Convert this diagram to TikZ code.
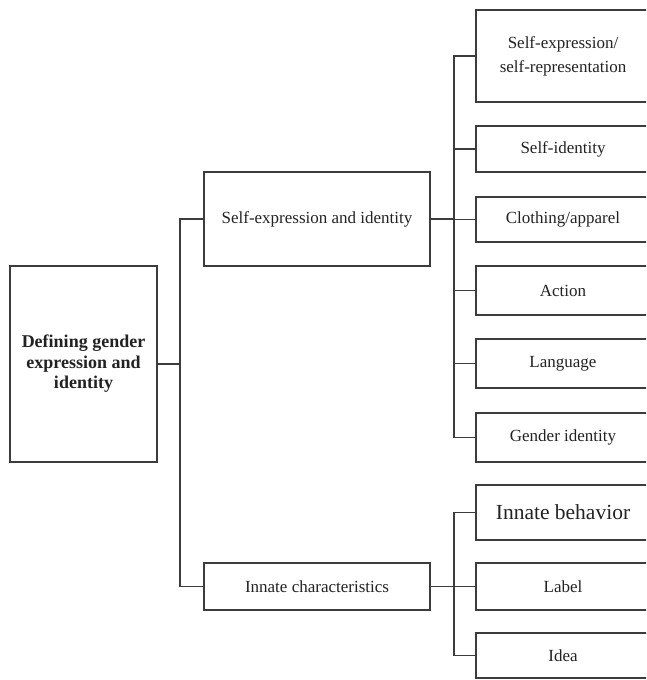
\documentclass[tikz,border=0pt]{standalone}
\usepackage{fontspec}
\setmainfont{Liberation Serif}
\definecolor{ln}{HTML}{3C3C3C}
\definecolor{tx}{HTML}{222222}
\begin{document}
\begin{tikzpicture}[x=1pt,y=-1pt,
  box/.style={draw=ln,line width=1.4pt,rectangle,inner sep=0pt,text=tx,align=center,font=\fontsize{17}{24}\selectfont},
  conn/.style={draw=ln,line width=1.4pt}]
\useasboundingbox (0,0) rectangle (646,680);
\clip (0,0) rectangle (646,680);
% root
\node[box,minimum width=147pt,minimum height=196pt,font=\fontsize{18}{20.5}\selectfont\bfseries] (root) at (83.5,364) {Defining gender\\expression and\\identity};
% middle
\node[box,minimum width=226pt,minimum height=94pt] (sei) at (317,219) {Self-expression and identity};
\node[box,minimum width=226pt,minimum height=47pt] (ic) at (317,586.5) {Innate characteristics};
% right column
\node[box,minimum width=174pt,minimum height=92pt] (r1) at (563,56) {Self-expression/\\self-representation};
\node[box,minimum width=174pt,minimum height=46pt] (r2) at (563,149) {Self-identity};
\node[box,minimum width=174pt,minimum height=45pt] (r3) at (563,219.5) {Clothing/apparel};
\node[box,minimum width=174pt,minimum height=49pt] (r4) at (563,290.5) {Action};
\node[box,minimum width=174pt,minimum height=49pt] (r5) at (563,363.5) {Language};
\node[box,minimum width=174pt,minimum height=49pt] (r6) at (563,437.5) {Gender identity};
\node[box,minimum width=174pt,minimum height=55pt,font=\fontsize{21.5}{24}\selectfont] (b1) at (563,512.5) {Innate behavior};
\node[box,minimum width=174pt,minimum height=47pt] (b2) at (563,586.5) {Label};
\node[box,minimum width=174pt,minimum height=45pt] (b3) at (563,655.5) {Idea};
% trunks
\coordinate (t1) at (180,0);
\coordinate (t2) at (454,0);
\draw[conn] (root.east) -- (root.east -| t1);
\draw[conn] (sei.west) -- (sei.west -| t1) -- (ic.west -| t1) -- (ic.west);
\draw[conn] (sei.east) -- (sei.east -| t2);
\draw[conn] (r1.west) -- (r1.west -| t2) -- (r6.west -| t2) -- (r6.west);
\draw[conn] (r2.west) -- (r2.west -| t2);
\draw[conn] (r3.west) -- (r3.west -| t2);
\draw[conn] (r4.west) -- (r4.west -| t2);
\draw[conn] (r5.west) -- (r5.west -| t2);
\draw[conn] (ic.east) -- (ic.east -| t2);
\draw[conn] (b1.west) -- (b1.west -| t2) -- (b3.west -| t2) -- (b3.west);
\draw[conn] (b2.west) -- (b2.west -| t2);
\end{tikzpicture}
\end{document}
